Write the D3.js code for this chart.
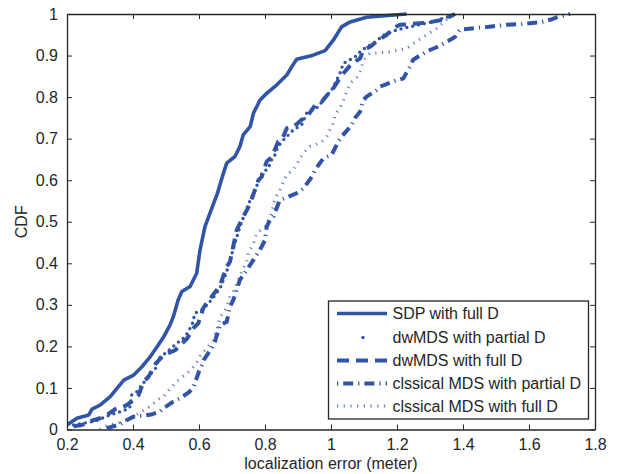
<!DOCTYPE html>
<html>
<head>
<meta charset="utf-8">
<script src="https://cdn.jsdelivr.net/npm/d3@7"></script>
<style>
  html, body { margin: 0; padding: 0; background: #fff; }
  svg { display: block; }
  text { font-family: "Liberation Sans", Arial, Helvetica, sans-serif; fill: #262626; }
</style>
</head>
<body>
<svg id="chart" width="617" height="474"></svg>
<script>
// ---- data ----
const xTicks = [0.2, 0.4, 0.6, 0.8, 1, 1.2, 1.4, 1.6, 1.8];
const yTicks = [0, 0.1, 0.2, 0.3, 0.4, 0.5, 0.6, 0.7, 0.8, 0.9, 1];
const seriesNames = ["SDP with full D", "dwMDS with partial D", "dwMDS with full D",
                     "clssical MDS with partial D", "clssical MDS with full D"];

const sdpFull = [[0.2,0.011],[0.23,0.027],[0.266,0.035],[0.276,0.049],[0.301,0.059],[0.331,0.079],[0.372,0.119],[0.402,0.131],[0.427,0.151],[0.452,0.175],[0.473,0.199],[0.493,0.223],[0.512,0.251],[0.522,0.271],[0.537,0.312],[0.548,0.332],[0.573,0.344],[0.593,0.376],[0.603,0.432],[0.618,0.488],[0.633,0.52],[0.648,0.552],[0.654,0.564],[0.674,0.617],[0.684,0.641],[0.709,0.657],[0.724,0.681],[0.734,0.709],[0.755,0.729],[0.765,0.761],[0.785,0.793],[0.805,0.809],[0.835,0.829],[0.866,0.853],[0.881,0.873],[0.896,0.891],[0.946,0.901],[0.982,0.912],[1.007,0.937],[1.032,0.969],[1.058,0.981],[1.108,0.992],[1.229,1.0]];

const dwPartial = [[0.22,0.011],[0.285,0.02],[0.33,0.035],[0.37,0.045],[0.39,0.052],[0.396,0.083],[0.412,0.091],[0.442,0.123],[0.468,0.147],[0.478,0.171],[0.503,0.187],[0.532,0.207],[0.558,0.223],[0.579,0.252],[0.588,0.28],[0.613,0.29],[0.638,0.312],[0.664,0.34],[0.684,0.38],[0.694,0.408],[0.709,0.448],[0.724,0.488],[0.739,0.52],[0.755,0.552],[0.77,0.576],[0.78,0.596],[0.79,0.616],[0.81,0.629],[0.82,0.649],[0.83,0.661],[0.837,0.677],[0.851,0.693],[0.886,0.721],[0.911,0.733],[0.926,0.761],[0.962,0.777],[0.982,0.8],[1.002,0.817],[1.017,0.841],[1.027,0.857],[1.037,0.881],[1.073,0.897],[1.088,0.909],[1.108,0.921],[1.128,0.929],[1.159,0.949],[1.2,0.962],[1.3,0.98],[1.35,0.992],[1.376,1.0]];

const dwFull = [[0.22,0.008],[0.245,0.011],[0.265,0.019],[0.3,0.027],[0.325,0.037],[0.346,0.049],[0.377,0.057],[0.402,0.071],[0.417,0.083],[0.432,0.115],[0.447,0.127],[0.47,0.16],[0.493,0.179],[0.528,0.191],[0.548,0.207],[0.564,0.219],[0.583,0.244],[0.598,0.256],[0.613,0.292],[0.623,0.304],[0.654,0.336],[0.664,0.348],[0.684,0.392],[0.694,0.404],[0.714,0.48],[0.724,0.496],[0.745,0.528],[0.755,0.544],[0.78,0.6],[0.79,0.608],[0.805,0.645],[0.82,0.655],[0.84,0.693],[0.851,0.697],[0.866,0.725],[0.886,0.728],[0.916,0.749],[0.931,0.757],[0.952,0.781],[0.972,0.789],[0.997,0.813],[1.007,0.821],[1.03,0.85],[1.063,0.881],[1.088,0.893],[1.098,0.913],[1.118,0.921],[1.143,0.937],[1.169,0.95],[1.189,0.966],[1.209,0.974],[1.245,0.976],[1.27,0.978],[1.305,0.981],[1.34,0.986],[1.361,0.994],[1.376,1.0]];

const cmdsPartial = [[0.32,0.003],[0.36,0.012],[0.382,0.023],[0.402,0.031],[0.431,0.033],[0.455,0.036],[0.482,0.043],[0.492,0.051],[0.522,0.067],[0.542,0.075],[0.57,0.09],[0.584,0.103],[0.589,0.115],[0.6,0.14],[0.609,0.155],[0.614,0.167],[0.638,0.195],[0.648,0.211],[0.664,0.252],[0.684,0.259],[0.694,0.296],[0.704,0.312],[0.724,0.36],[0.755,0.396],[0.765,0.408],[0.79,0.44],[0.8,0.456],[0.805,0.488],[0.815,0.504],[0.825,0.512],[0.845,0.552],[0.87,0.56],[0.9,0.57],[0.916,0.58],[0.942,0.608],[0.952,0.625],[0.977,0.653],[1.002,0.661],[1.022,0.693],[1.032,0.705],[1.063,0.733],[1.073,0.75],[1.088,0.765],[1.098,0.793],[1.108,0.801],[1.138,0.817],[1.148,0.825],[1.194,0.839],[1.219,0.845],[1.239,0.873],[1.249,0.89],[1.29,0.91],[1.32,0.92],[1.355,0.935],[1.376,0.945],[1.39,0.962],[1.436,0.966],[1.487,0.97],[1.532,0.974],[1.578,0.976],[1.603,0.978],[1.633,0.98],[1.664,0.986],[1.684,0.992],[1.724,1.0]];

const cmdsFull = [[0.3,0.0],[0.311,0.007],[0.352,0.015],[0.382,0.023],[0.41,0.035],[0.442,0.051],[0.458,0.059],[0.473,0.071],[0.493,0.079],[0.513,0.099],[0.528,0.111],[0.543,0.123],[0.564,0.135],[0.579,0.147],[0.594,0.163],[0.608,0.183],[0.623,0.195],[0.643,0.215],[0.654,0.24],[0.664,0.27],[0.679,0.288],[0.694,0.32],[0.709,0.34],[0.719,0.36],[0.729,0.38],[0.745,0.404],[0.749,0.424],[0.765,0.448],[0.775,0.472],[0.8,0.488],[0.815,0.51],[0.825,0.536],[0.83,0.556],[0.845,0.576],[0.855,0.596],[0.866,0.613],[0.885,0.625],[0.896,0.637],[0.906,0.653],[0.921,0.669],[0.936,0.681],[0.952,0.685],[0.972,0.693],[0.987,0.705],[0.997,0.721],[1.007,0.737],[1.012,0.757],[1.027,0.775],[1.037,0.789],[1.047,0.813],[1.06,0.835],[1.078,0.848],[1.088,0.862],[1.1,0.89],[1.118,0.905],[1.179,0.909],[1.229,0.917],[1.25,0.929],[1.3,0.955],[1.32,0.965],[1.35,0.986],[1.376,1.0]];

// ---- layout / styles ----
const blue = "#3154a5";
const L = 67, R = 595, T = 14, B = 429.5;
const svg = d3.select("#chart");
const x = d3.scaleLinear().domain([0.2, 1.8]).range([L, R]);
const y = d3.scaleLinear().domain([0, 1]).range([B, T]);

const styles = [
  { data: sdpFull,     width: 3.6, dash: null,         cap: "butt",  opacity: 1 },
  { data: dwPartial,   width: 3.4, dash: "0,6",        cap: "round", opacity: 1 },
  { data: dwFull,      width: 4,   dash: "11,7",       cap: "butt",  opacity: 1 },
  { data: cmdsPartial, width: 4,   dash: "10,5,1.2,5", cap: "butt",  opacity: 1 },
  { data: cmdsFull,    width: 3,   dash: "1.2,5.5",    cap: "butt",  opacity: 0.75 }
];

const line = d3.line().x(d => x(d[0])).y(d => y(d[1]));
const plot = svg.append("g");
plot.append("defs").append("clipPath").attr("id", "clip")
  .append("rect").attr("x", L).attr("y", T - 2).attr("width", R - L).attr("height", B - T + 2);

// draw order: back to front
[4, 3, 2, 1, 0].forEach(i => {
  const s = styles[i];
  plot.append("path")
    .datum(s.data)
    .attr("d", line)
    .attr("fill", "none")
    .attr("stroke", blue)
    .attr("stroke-width", s.width)
    .attr("stroke-dasharray", s.dash)
    .attr("stroke-linecap", s.cap)
    .attr("stroke-linejoin", "round")
    .attr("stroke-opacity", s.opacity)
    .attr("clip-path", "url(#clip)");
});

// ---- axes (MATLAB style, ticks inside, box) ----
const axisColor = "#262626";
const tickLen = 5;
const fmt = d => String(d);

const xAxisB = d3.axisBottom(x).tickValues(xTicks).tickFormat(fmt).tickSizeInner(-tickLen).tickSizeOuter(0).tickPadding(9);
const xAxisT = d3.axisTop(x).tickValues(xTicks).tickFormat("").tickSizeInner(-tickLen).tickSizeOuter(0);
const yAxisL = d3.axisLeft(y).tickValues(yTicks).tickFormat(fmt).tickSizeInner(-tickLen).tickSizeOuter(0).tickPadding(9);
const yAxisR = d3.axisRight(y).tickValues(yTicks).tickFormat("").tickSizeInner(-tickLen).tickSizeOuter(0);

function styleAxis(g) {
  g.selectAll("path.domain").attr("stroke", axisColor).attr("stroke-width", 1.3);
  g.selectAll(".tick line").attr("stroke", axisColor).attr("stroke-width", 1);
  g.selectAll(".tick text").attr("font-size", 16).attr("fill", axisColor)
    .attr("font-family", '"Liberation Sans", Arial, sans-serif');
}
svg.append("g").attr("transform", `translate(0,${B})`).call(xAxisB).call(styleAxis);
svg.append("g").attr("transform", `translate(0,${T})`).call(xAxisT).call(styleAxis);
svg.append("g").attr("transform", `translate(${L},0)`).call(yAxisL).call(styleAxis);
svg.append("g").attr("transform", `translate(${R},0)`).call(yAxisR).call(styleAxis);

// axis titles
svg.append("text").attr("x", (L + R) / 2).attr("y", 469)
  .attr("text-anchor", "middle").attr("font-size", 16).text("localization error (meter)");
svg.append("text").attr("transform", `translate(27,${(T + B) / 2}) rotate(-90)`)
  .attr("text-anchor", "middle").attr("font-size", 16).text("CDF");

// ---- legend ----
const lg = svg.append("g");
const lx0 = 328.5, ly0 = 301, lw = 260, lh = 118;
lg.append("rect").attr("x", lx0).attr("y", ly0).attr("width", lw).attr("height", lh)
  .attr("fill", "#fff").attr("stroke", axisColor).attr("stroke-width", 1.3);
const rowY = [313.5, 337.5, 360.5, 383.5, 406];
seriesNames.forEach((name, i) => {
  const s = styles[i];
  const yy = rowY[i];
  if (i === 1) {
    lg.append("circle").attr("cx", 363).attr("cy", yy).attr("r", 1.7).attr("fill", blue);
  } else {
    lg.append("line").attr("x1", 337).attr("x2", 387).attr("y1", yy).attr("y2", yy)
      .attr("stroke", blue).attr("stroke-width", s.width)
      .attr("stroke-dasharray", i === 2 ? "12,7" : (i === 3 ? "1.2,5,10,5" : s.dash))
      .attr("stroke-opacity", s.opacity);
  }
  lg.append("text").attr("x", 392.5).attr("y", yy + 5.5).attr("font-size", 16).text(name);
});
</script>
</body>
</html>
